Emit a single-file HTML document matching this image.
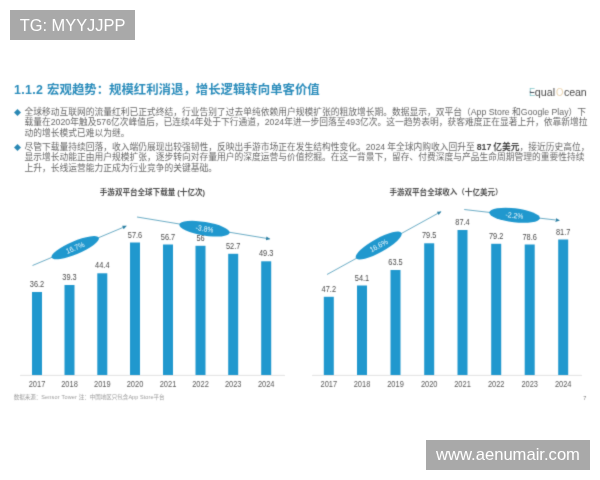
<!DOCTYPE html>
<html lang="zh-CN">
<head>
<meta charset="utf-8">
<title>1.1.2 宏观趋势</title>
<style>
  html, body { margin: 0; padding: 0; background: #fff; }
  body { width: 600px; height: 480px; position: relative; overflow: hidden;
         font-family: "Liberation Sans", "Noto Sans CJK SC", sans-serif; }
  .tag { position: absolute; background: #a9a9a9; color: #fff; white-space: nowrap;
         font-family: "Liberation Sans", sans-serif; }
  #tg { left: 10px; top: 10px; width: 125px; height: 30px; line-height: 30px;
        font-size: 16.4px; text-align: center; }
  #wm { left: 426px; top: 440px; width: 164px; height: 30px; line-height: 29px;
        font-size: 16.6px; text-align: center; }
  #slide { position: absolute; left: 0; top: 0; width: 600px; height: 480px; filter: url(#soft); }
  h1 { position: absolute; left: 14px; top: 81px; margin: 0; font-size: 12.4px; line-height: 18px;
       font-weight: bold; color: #2a8cbb; white-space: nowrap; }
  .para { position: absolute; left: 24.5px; width: 570px; margin: 0; font-size: 8.75px; line-height: 10.45px;
          color: #676767; white-space: nowrap; }
  .para b { color: #444; }
  .dia { position: absolute; left: 14px; width: 7px; height: 7px; }
  #p1 { top: 107px; }
  #p2 { top: 142px; word-spacing: -0.45px; }
  #logo { position: absolute; left: 0; top: 0; font-size: 10.7px; line-height: 14px; color: #4a4a4a; white-space: nowrap; }
  #logo span { position: absolute; top: 85.2px; }
  #logo .e { left: 528.6px; font-size: 11.4px; top: 84.6px; transform-origin: 0 50%; transform: scaleX(0.82);
             background: linear-gradient(#7cc3c6 0 40%, #4a5560 40% 58%, #7cc3c6 58%); -webkit-background-clip: text; background-clip: text; color: transparent; }
  #logo .o { left: 556.2px; font-size: 10.6px; top: 85.1px; color: #ecd5b0; transform-origin: 0 50%; transform: scaleX(0.9); }
  #src { position: absolute; left: 13.7px; top: 393px; font-size: 5.5px; line-height: 8px; color: #9a9a9a; white-space: nowrap; }
  #pg { position: absolute; left: 583.3px; top: 394px; font-size: 5.5px; line-height: 8px; color: #777; }
  svg { position: absolute; left: 0; top: 0; }
  svg text { font-family: "Liberation Sans", "Noto Sans CJK SC", sans-serif; }
</style>
</head>
<body>
<svg width="0" height="0" style="position:absolute"><filter id="soft" x="0" y="0" width="100%" height="100%" color-interpolation-filters="sRGB"><feConvolveMatrix order="3" kernelMatrix="0.2 1 0.2 1 6 1 0.2 1 0.2" divisor="10.8" edgeMode="duplicate" preserveAlpha="false"/></filter></svg>
<div id="slide">
  <h1><span style="letter-spacing:0.35px">1.1.2 </span>宏观趋势：规模红利消退，增长逻辑转向单客价值</h1>

  <div id="logo"><span class="e">E</span><span style="left:534.8px;letter-spacing:0">qual</span><span class="o">O</span><span style="left:564px;letter-spacing:-0.15px">cean</span></div>

  <svg class="dia" style="top:108.5px" viewBox="0 0 8 8"><path d="M4 0 L8 4 L4 8 L0 4 Z" fill="#2a88b4"/></svg>
  <p class="para" id="p1">全球移动互联网的流量红利已正式终结，行业告别了过去单纯依赖用户规模扩张的粗放增长期。数据显示，双平台（App Store 和Google Play）下<br>载量在2020年触及576亿次峰值后，已连续4年处于下行通道，2024年进一步回落至493亿次。这一趋势表明，获客难度正在显著上升，依靠新增拉<br>动的增长模式已难以为继。</p>

  <svg class="dia" style="top:143.5px" viewBox="0 0 8 8"><path d="M4 0 L8 4 L4 8 L0 4 Z" fill="#2a88b4"/></svg>
  <p class="para" id="p2">尽管下载量持续回落，收入端仍展现出较强韧性，反映出手游市场正在发生结构性变化。2024 年全球内购收入回升至 <b>817 亿美元</b>，接近历史高位，<br>显示增长动能正由用户规模扩张，逐步转向对存量用户的深度运营与价值挖掘。在这一背景下，留存、付费深度与产品生命周期管理的重要性持续<br>上升，长线运营能力正成为行业竞争的关键基础。</p>

  <svg id="charts" width="600" height="480" viewBox="0 0 600 480">
    <defs>
      <marker id="ah" markerWidth="6" markerHeight="6" refX="3.6" refY="3" orient="auto" markerUnits="userSpaceOnUse">
        <path d="M0 1.1 L4.2 3 L0 4.9 Z" fill="#2b7fa3"/>
      </marker>
    </defs>
    <!-- left chart -->
    <text x="152.4" y="194.7" font-size="7.55" font-weight="bold" fill="#4d4d4d" text-anchor="middle">手游双平台全球下载量 (十亿次)</text>
    <line x1="20" y1="375.4" x2="285" y2="375.4" stroke="#dadada" stroke-width="0.8"/>
    <g fill="#2098ce">
      <rect x="32.00" y="292.00" width="10" height="83.00"/>
      <rect x="64.50" y="285.00" width="10" height="90.00"/>
      <rect x="97.30" y="273.30" width="10" height="101.70"/>
      <rect x="130.00" y="242.50" width="10" height="132.50"/>
      <rect x="163.00" y="244.50" width="10" height="130.50"/>
      <rect x="195.50" y="245.80" width="10" height="129.20"/>
      <rect x="228.20" y="253.80" width="10" height="121.20"/>
      <rect x="261.20" y="261.30" width="10" height="113.70"/>
    </g>
    <g font-size="8.7" fill="#4a4a4a" text-anchor="middle">
      <g transform="translate(37.00 287.00) scale(0.85 1)"><text>36.2</text></g>
      <g transform="translate(69.50 280.00) scale(0.85 1)"><text>39.3</text></g>
      <g transform="translate(102.30 268.30) scale(0.85 1)"><text>44.4</text></g>
      <g transform="translate(135.00 237.50) scale(0.85 1)"><text>57.6</text></g>
      <g transform="translate(168.00 239.50) scale(0.85 1)"><text>56.7</text></g>
      <g transform="translate(200.50 240.80) scale(0.85 1)"><text>56</text></g>
      <g transform="translate(233.20 248.80) scale(0.85 1)"><text>52.7</text></g>
      <g transform="translate(266.20 256.30) scale(0.85 1)"><text>49.3</text></g>
    </g>
    <g font-size="8.3" fill="#585858" text-anchor="middle">
      <g transform="translate(37.00 387.20) scale(0.9 1)"><text>2017</text></g>
      <g transform="translate(69.50 387.20) scale(0.9 1)"><text>2018</text></g>
      <g transform="translate(102.30 387.20) scale(0.9 1)"><text>2019</text></g>
      <g transform="translate(135.00 387.20) scale(0.9 1)"><text>2020</text></g>
      <g transform="translate(168.00 387.20) scale(0.9 1)"><text>2021</text></g>
      <g transform="translate(200.50 387.20) scale(0.9 1)"><text>2022</text></g>
      <g transform="translate(233.20 387.20) scale(0.9 1)"><text>2023</text></g>
      <g transform="translate(266.20 387.20) scale(0.9 1)"><text>2024</text></g>
    </g>
    <line x1="32.5" y1="265.5" x2="126.2" y2="226.1" stroke="#3a90b2" stroke-width="0.75" marker-end="url(#ah)"/>
    <g transform="translate(75.2 247.7) rotate(-22.81)"><ellipse rx="25.6" ry="6.5" fill="#2098ce"/><g transform="scale(0.9 1)"><text y="2.7" font-size="7.6" fill="#fff" fill-opacity="0.92" text-anchor="middle">16.7%</text></g></g>
    <line x1="137" y1="217" x2="269.7" y2="238.9" stroke="#3a90b2" stroke-width="0.75" marker-end="url(#ah)"/>
    <g transform="translate(204.5 228.7) rotate(9.37)"><ellipse rx="25.5" ry="6.8" fill="#2098ce"/><g transform="scale(0.9 1)"><text y="2.7" font-size="7.6" fill="#fff" fill-opacity="0.92" text-anchor="middle">-3.8%</text></g></g>

    <!-- right chart -->
    <text x="446" y="194.7" font-size="7.55" font-weight="bold" fill="#4d4d4d" text-anchor="middle">手游双平台全球收入（十亿美元）</text>
    <line x1="312" y1="375.4" x2="582" y2="375.4" stroke="#dadada" stroke-width="0.8"/>
    <g fill="#2098ce">
      <rect x="323.80" y="296.80" width="10" height="78.20"/>
      <rect x="357.00" y="285.50" width="10" height="89.50"/>
      <rect x="390.50" y="270.00" width="10" height="105.00"/>
      <rect x="424.20" y="243.30" width="10" height="131.70"/>
      <rect x="457.50" y="230.00" width="10" height="145.00"/>
      <rect x="491.20" y="243.80" width="10" height="131.20"/>
      <rect x="524.70" y="244.50" width="10" height="130.50"/>
      <rect x="558.20" y="239.50" width="10" height="135.50"/>
    </g>
    <g font-size="8.7" fill="#4a4a4a" text-anchor="middle">
      <g transform="translate(328.80 291.80) scale(0.85 1)"><text>47.2</text></g>
      <g transform="translate(362.00 280.50) scale(0.85 1)"><text>54.1</text></g>
      <g transform="translate(395.50 265.00) scale(0.85 1)"><text>63.5</text></g>
      <g transform="translate(429.20 238.30) scale(0.85 1)"><text>79.5</text></g>
      <g transform="translate(462.50 225.00) scale(0.85 1)"><text>87.4</text></g>
      <g transform="translate(496.20 238.80) scale(0.85 1)"><text>79.2</text></g>
      <g transform="translate(529.70 239.50) scale(0.85 1)"><text>78.6</text></g>
      <g transform="translate(563.20 234.50) scale(0.85 1)"><text>81.7</text></g>
    </g>
    <g font-size="8.3" fill="#585858" text-anchor="middle">
      <g transform="translate(328.80 387.20) scale(0.9 1)"><text>2017</text></g>
      <g transform="translate(362.00 387.20) scale(0.9 1)"><text>2018</text></g>
      <g transform="translate(395.50 387.20) scale(0.9 1)"><text>2019</text></g>
      <g transform="translate(429.20 387.20) scale(0.9 1)"><text>2020</text></g>
      <g transform="translate(462.50 387.20) scale(0.9 1)"><text>2021</text></g>
      <g transform="translate(496.20 387.20) scale(0.9 1)"><text>2022</text></g>
      <g transform="translate(529.70 387.20) scale(0.9 1)"><text>2023</text></g>
      <g transform="translate(563.20 387.20) scale(0.9 1)"><text>2024</text></g>
    </g>
    <line x1="327" y1="274.5" x2="440.9" y2="211.7" stroke="#3a90b2" stroke-width="0.75" marker-end="url(#ah)"/>
    <g transform="translate(378.7 245.5) rotate(-28.87)"><ellipse rx="26" ry="6.9" fill="#2098ce"/><g transform="scale(0.9 1)"><text y="2.7" font-size="7.6" fill="#fff" fill-opacity="0.92" text-anchor="middle">16.6%</text></g></g>
    <line x1="464.2" y1="209.5" x2="559.2" y2="220.4" stroke="#3a90b2" stroke-width="0.75" marker-end="url(#ah)"/>
    <g transform="translate(514.5 215.3) rotate(6.55)"><ellipse rx="25.5" ry="7" fill="#2098ce"/><g transform="scale(0.9 1)"><text y="2.7" font-size="7.6" fill="#fff" fill-opacity="0.92" text-anchor="middle">-2.2%</text></g></g>
  </svg>

  <div id="src">数据来源：<span style="letter-spacing:0.2px">Sensor Tower </span>注：中国地区只包含<span style="letter-spacing:0.08px">App Store</span>平台</div>
  <div id="pg">7</div>
</div>

<div class="tag" id="tg">TG: MYYJJPP</div>
<div class="tag" id="wm">www.aenumair.com</div>
</body>
</html>
